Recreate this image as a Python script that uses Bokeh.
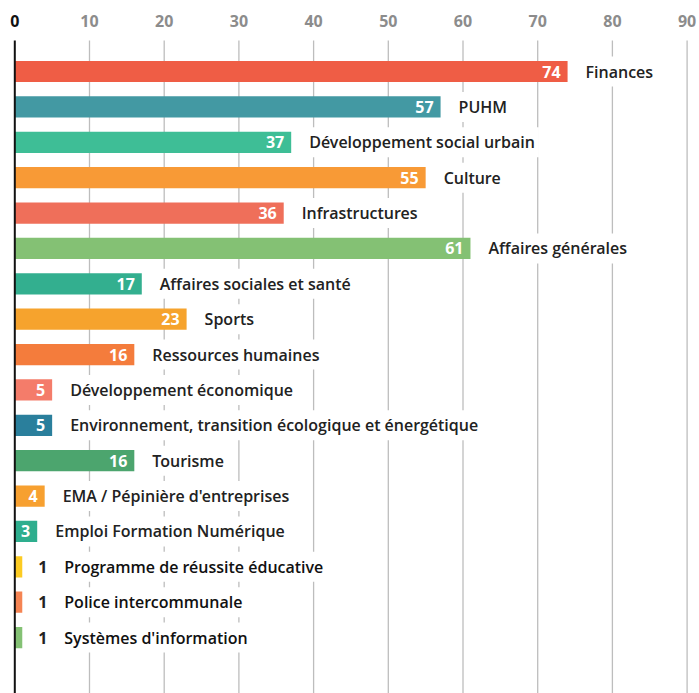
from bokeh.plotting import figure
from bokeh.models import Range1d, ColumnDataSource
from bokeh.core.properties import value
from bokeh.embed import file_html
from bokeh.resources import INLINE

categories = [
    "Finances", "PUHM", "Développement social urbain", "Culture", "Infrastructures",
    "Affaires générales", "Affaires sociales et santé", "Sports", "Ressources humaines",
    "Développement économique", "Environnement, transition écologique et énergétique",
    "Tourisme", "EMA / Pépinière d'entreprises", "Emploi Formation Numérique",
    "Programme de réussite éducative", "Police intercommunale", "Systèmes d'information",
]
values = [74, 57, 37, 55, 36, 61, 17, 23, 16, 5, 5, 16, 4, 3, 1, 1, 1]
colors = [
    "#EF5D45", "#4399A3", "#3EBE96", "#F89A36", "#EF6F5A", "#84C174", "#33AF8F",
    "#F6A32D", "#F47C3C", "#F47C6A", "#2A7F9C", "#4CA56E", "#F7A030", "#2EAE8E",
    "#FCCB22", "#F58453", "#84C174",
]
ticks = [0, 10, 20, 30, 40, 50, 60, 70, 80, 90]

FONT = "Open Sans"
LABEL_FONT = "'Open Sans SemiBold', 'Open Sans'"
n = len(categories)
rows = list(range(n))

p = figure(width=699, height=693, output_backend="svg", toolbar_location=None,
           x_range=Range1d(-1.914, 91.66), y_range=Range1d(17.58, -2.007),
           min_border=0)
p.xaxis.visible = False
p.yaxis.visible = False
p.xgrid.visible = False
p.ygrid.visible = False
p.outline_line_color = None

grid_top = -0.876
grid_bottom = 17.58

# gridlines
gx = ticks[1:]
p.segment(x0=gx, y0=[grid_top] * len(gx), x1=gx, y1=[grid_bottom] * len(gx),
          line_color="#bdbdbd", line_width=1.3)

# tick labels
tick_colors = ["#111111"] + ["#8c8c8c"] * (len(ticks) - 1)
p.text(x=ticks, y=[-1.44] * len(ticks), text=[str(t) for t in ticks],
       text_color=tick_colors, text_align="center", text_baseline="middle",
       text_font=value(FONT), text_font_size="16px", text_font_style="bold")

# bars
src = ColumnDataSource(dict(y=rows, v=values, c=colors))
p.hbar(y="y", left=0, right="v", height=0.6, fill_color="c", line_color=None, source=src)

# zero axis line
p.segment(x0=[0], y0=[grid_top], x1=[0], y1=[grid_bottom], line_color="#111111", line_width=2)

inside = [v > 2 for v in values]
in_src = ColumnDataSource(dict(
    x=[v for v, i in zip(values, inside) if i],
    y=[r for r, i in zip(rows, inside) if i],
    t=[str(v) for v, i in zip(values, inside) if i],
    cat=[c for c, i in zip(categories, inside) if i]))
out_src = ColumnDataSource(dict(
    x=[v for v, i in zip(values, inside) if not i],
    y=[r for r, i in zip(rows, inside) if not i],
    t=[str(v) for v, i in zip(values, inside) if not i],
    cat=[c for c, i in zip(categories, inside) if not i]))

# value labels inside bars
p.text(x="x", y="y", text="t", source=in_src, x_offset=-7, text_align="right",
       text_baseline="middle", text_color="white", text_font=value(FONT),
       text_font_size="16px", text_font_style="bold")
# category labels for inside rows
p.text(x="x", y="y", text="cat", source=in_src, x_offset=14, text_align="left",
       text_baseline="middle", text_color="#222222", text_font=value(LABEL_FONT),
       text_font_size="16px", text_font_style="normal",
       background_fill_color="white", padding=4)

# value labels outside (small bars)
p.text(x="x", y="y", text="t", source=out_src, x_offset=13, text_align="left",
       text_baseline="middle", text_color="#222222", text_font=value(FONT),
       text_font_size="16px", text_font_style="bold",
       background_fill_color="white", padding=3)
p.text(x="x", y="y", text="cat", source=out_src, x_offset=38, text_align="left",
       text_baseline="middle", text_color="#111111", text_font=value(LABEL_FONT),
       text_font_size="16px", text_font_style="normal",
       background_fill_color="white", padding=4)

open("out.html", "w").write(file_html(p, INLINE))
